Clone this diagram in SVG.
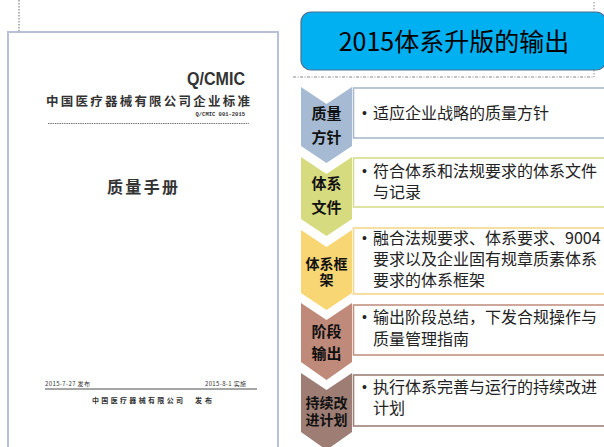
<svg xmlns="http://www.w3.org/2000/svg" width="604" height="447" viewBox="0 0 604 447">
<style>
.cjk{font-family:"Noto Sans CJK SC","Liberation Sans",sans-serif}
.doc{fill:#333}
.chev-t{font-family:"Noto Sans CJK SC",sans-serif;font-weight:bold;font-size:15px;fill:#111;text-anchor:middle}
.sm{font-size:14px}
.box-t{font-family:"Noto Sans CJK SC",sans-serif;font-size:16px;fill:#222}
.bul{font-family:"Liberation Sans",sans-serif;font-size:14px;fill:#222}
.box{fill:#fff;stroke-width:1.6}
</style>
<rect width="604" height="447" fill="#fff"/>
<g id="document">
  <line x1="19" y1="0" x2="19" y2="31" stroke="#666" stroke-width="1" stroke-dasharray="1.5 1.5"/>
  <rect x="8" y="32" width="270" height="440" fill="#fff" stroke="#b9c1d9" stroke-width="2"/>
  <text x="245" y="85" text-anchor="end" font-family="Liberation Sans,sans-serif" font-weight="bold" font-size="19" textLength="58" lengthAdjust="spacingAndGlyphs" class="doc">Q/CMIC</text>
  <text x="46" y="106" class="cjk doc" font-weight="bold" font-size="12.5" textLength="204">中国医疗器械有限公司企业标准</text>
  <text x="245" y="116" text-anchor="end" font-family="Liberation Mono,monospace" font-weight="bold" font-size="5.5" class="doc">Q/CMIC 001-2015</text>
  <line x1="48" y1="123.5" x2="249" y2="123.5" stroke="#555" stroke-width="0.8" stroke-dasharray="1.5 0.8"/>
  <text x="107" y="193" class="cjk doc" font-weight="bold" font-size="16" textLength="71">质量手册</text>
  <text x="45" y="386" class="cjk doc" font-size="6" textLength="45">2015-7-27 发布</text>
  <text x="205" y="386" class="cjk doc" font-size="6" textLength="41">2015-8-1 实施</text>
  <line x1="45" y1="389" x2="257" y2="389" stroke="#888" stroke-width="1.5"/>
  <text x="92" y="403" class="cjk doc" font-weight="bold" font-size="7" textLength="91">中国医疗器械有限公司</text>
  <text x="195" y="403" class="cjk doc" font-weight="bold" font-size="7" textLength="17">发布</text>
</g>
<g id="title">
  <line x1="594" y1="2" x2="594" y2="11" stroke="#888" stroke-width="1" stroke-dasharray="1.5 1.5"/>
  <rect x="301" y="12" width="305" height="58" rx="10" ry="10" fill="#00b0f0" stroke="#4a7090" stroke-width="1.2"/>
  <text x="454" y="51" text-anchor="middle" class="cjk" font-size="25" fill="#000">2015体系升版的输出</text>
  <line x1="594" y1="70" x2="594" y2="77" stroke="#888" stroke-width="1" stroke-dasharray="1.5 1.5"/>
  <line x1="293" y1="77" x2="594" y2="77" stroke="#888" stroke-width="1" stroke-dasharray="3 1.5 1 1.5"/>
</g>
<g id="step1">
  <path d="M301,87 L326.5,104 L352,87 L352,146 L326.5,163 L301,146 Z" fill="#a6bbd3"/>
  <text class="chev-t" x="326.5" y="118.5">质量</text>
  <text class="chev-t" x="326.5" y="142.5">方针</text>
  <rect class="box" x="353.5" y="88" width="270" height="50" stroke="#a9b9cd"/>
  <text class="bul" x="362" y="118">•</text>
  <text class="box-t" x="373" y="119">适应企业战略的质量方针</text>
</g>
<g id="step2">
  <path d="M301,157 L326.5,174 L352,157 L352,219 L326.5,236 L301,219 Z" fill="#d6db80"/>
  <text class="chev-t" x="326.5" y="188.5">体系</text>
  <text class="chev-t" x="326.5" y="212.5">文件</text>
  <rect class="box" x="353.5" y="158" width="270" height="49" stroke="#d6dc8e"/>
  <text class="bul" x="362" y="176">•</text>
  <text class="box-t" x="373" y="177">符合体系和法规要求的体系文件</text>
  <text class="box-t" x="373" y="198">与记录</text>
</g>
<g id="step3">
  <path d="M301,230 L326.5,247 L352,230 L352,293 L326.5,310 L301,293 Z" fill="#f9d674"/>
  <text class="chev-t sm" x="326.5" y="268.5">体系框</text>
  <text class="chev-t sm" x="326.5" y="285">架</text>
  <rect class="box" x="353.5" y="228" width="270" height="66" stroke="#f5d88c"/>
  <text class="bul" x="362" y="243">•</text>
  <text class="box-t" x="373" y="244">融合法规要求、体系要求、9004</text>
  <text class="box-t" x="373" y="265">要求以及企业固有规章质素体系</text>
  <text class="box-t" x="373" y="286">要求的体系框架</text>
</g>
<g id="step4">
  <path d="M301,303 L326.5,320 L352,303 L352,362 L326.5,380 L301,362 Z" fill="#c08a7a"/>
  <text class="chev-t" x="326.5" y="336.5">阶段</text>
  <text class="chev-t" x="326.5" y="358.5">输出</text>
  <rect class="box" x="353.5" y="305" width="270" height="50" stroke="#c39283"/>
  <text class="bul" x="362" y="322">•</text>
  <text class="box-t" x="373" y="323">输出阶段总结，下发合规操作与</text>
  <text class="box-t" x="373" y="345">质量管理指南</text>
</g>
<g id="step5">
  <path d="M301,373 L326.5,390 L352,373 L352,432 L326.5,450 L301,432 Z" fill="#9d7d74"/>
  <text class="chev-t sm" x="326.5" y="407.5">持续改</text>
  <text class="chev-t sm" x="326.5" y="424.5">进计划</text>
  <rect class="box" x="353.5" y="375" width="270" height="51" stroke="#9e8178"/>
  <text class="bul" x="362" y="392">•</text>
  <text class="box-t" x="373" y="393">执行体系完善与运行的持续改进</text>
  <text class="box-t" x="373" y="414">计划</text>
</g>
</svg>
